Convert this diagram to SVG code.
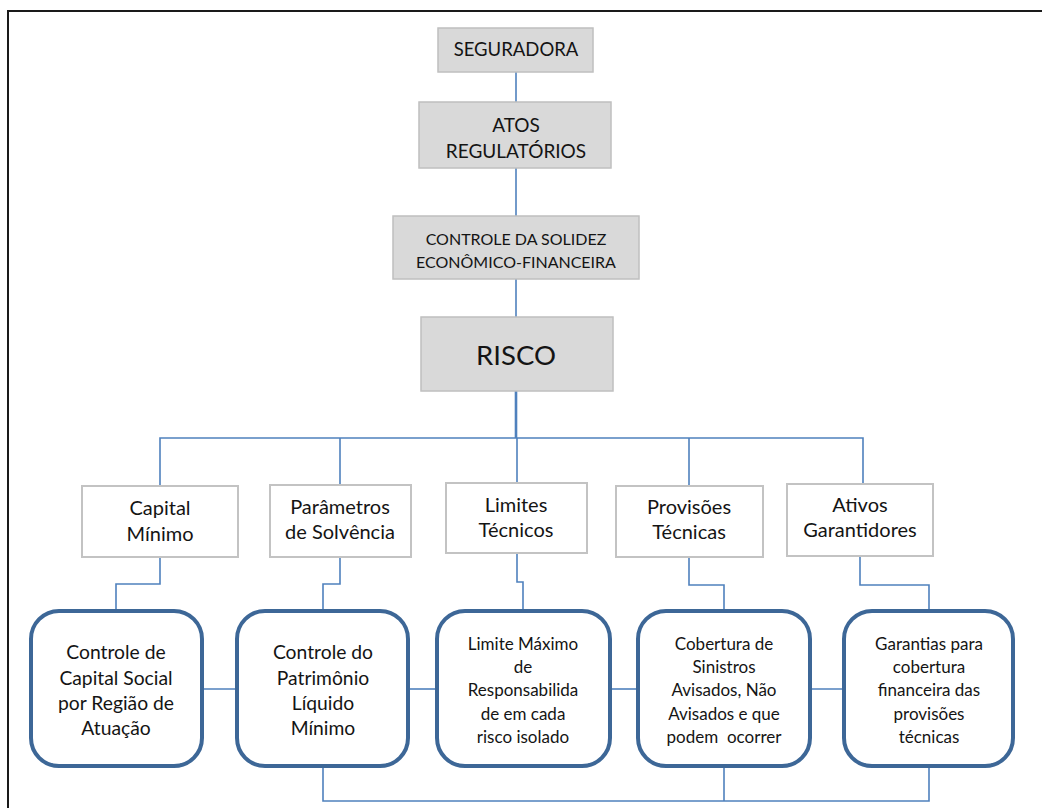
<svg xmlns="http://www.w3.org/2000/svg" width="1042" height="808" viewBox="0 0 1042 808">
<style>
.top{fill:#d9d9d9;stroke:#bfbfbf;stroke-width:1.5}
.mid{fill:#ffffff;stroke:#c3c3c3;stroke-width:2}
.bot{fill:#ffffff;stroke:#3d6797;stroke-width:4}
.t{font-family:Lato,"Open Sans","Liberation Sans",sans-serif;fill:#141414;text-anchor:middle;dominant-baseline:central}
.c{fill:none;stroke:#4f81bd;stroke-width:1.6}
</style>
<rect width="1042" height="808" fill="#ffffff"/>
<polyline points="8,808 8,11 1042,11" fill="none" stroke="#1a1a1a" stroke-width="2"/>
<g id="connectors">
<line class="c" x1="516" y1="72" x2="516" y2="102"/>
<line class="c" x1="516" y1="168" x2="516" y2="216"/>
<line class="c" x1="516" y1="279" x2="516" y2="317"/>
<line class="c" x1="516" y1="391" x2="516" y2="438" style="stroke-width:2.6"/>
<polyline class="c" points="160,486 160,438 863,438 863,484"/>
<line class="c" x1="340" y1="438" x2="340" y2="485"/>
<line class="c" x1="517" y1="438" x2="517" y2="483"/>
<line class="c" x1="689" y1="438" x2="689" y2="486"/>
<polyline class="c" points="160,557 160,584 116,584 116,611"/>
<polyline class="c" points="340,557 340,584 323,584 323,611"/>
<polyline class="c" points="517,553 517,582 523,582 523,611"/>
<polyline class="c" points="689,557 689,585 724,585 724,611"/>
<polyline class="c" points="860,556 860,585 929,585 929,611"/>
<line class="c" x1="202" y1="689" x2="237" y2="689"/>
<line class="c" x1="408" y1="689" x2="437" y2="689"/>
<line class="c" x1="610" y1="689" x2="638" y2="689"/>
<line class="c" x1="810" y1="689" x2="844" y2="689"/>
<polyline class="c" points="323,766 323,801 929,801 929,766"/>
<line class="c" x1="724" y1="766" x2="724" y2="801"/>
</g>
<g id="seguradora">
<rect class="top" x="438" y="28" width="155" height="44"/>
<text class="t" x="516" y="49" font-size="18.5">SEGURADORA</text>
</g>
<g id="atos">
<rect class="top" x="419" y="102" width="192" height="66"/>
<text class="t" x="516" y="124" font-size="19">ATOS</text>
<text class="t" x="516" y="150" font-size="19">REGULATÓRIOS</text>
</g>
<g id="controle">
<rect class="top" x="393" y="216" width="246" height="63"/>
<text class="t" x="516" y="238" font-size="16">CONTROLE DA SOLIDEZ</text>
<text class="t" x="516" y="261" font-size="16">ECONÔMICO-FINANCEIRA</text>
</g>
<g id="risco">
<rect class="top" x="421" y="317" width="192" height="74"/>
<text class="t" x="516" y="354" font-size="27.5">RISCO</text>
</g>
<g id="capital">
<rect class="mid" x="82" y="486" width="156" height="71"/>
<text class="t" x="160" y="507" font-size="20">Capital</text>
<text class="t" x="160" y="533" font-size="20">Mínimo</text>
</g>
<g id="parametros">
<rect class="mid" x="270" y="485" width="141" height="72"/>
<text class="t" x="340" y="506" font-size="20">Parâmetros</text>
<text class="t" x="340" y="531" font-size="20">de Solvência</text>
</g>
<g id="limites">
<rect class="mid" x="446" y="483" width="141" height="70"/>
<text class="t" x="516" y="504" font-size="20">Limites</text>
<text class="t" x="516" y="529" font-size="20">Técnicos</text>
</g>
<g id="provisoes">
<rect class="mid" x="616" y="486" width="147" height="71"/>
<text class="t" x="689" y="506" font-size="20">Provisões</text>
<text class="t" x="689" y="531" font-size="20">Técnicas</text>
</g>
<g id="ativos">
<rect class="mid" x="787" y="484" width="146" height="72"/>
<text class="t" x="860" y="504" font-size="20">Ativos</text>
<text class="t" x="860" y="529" font-size="20">Garantidores</text>
</g>
<g id="capital-social">
<rect class="bot" x="31" y="611" width="171" height="155" rx="28"/>
<text class="t" x="116" y="651" font-size="19.3">Controle de</text>
<text class="t" x="116" y="677" font-size="19.3">Capital Social</text>
<text class="t" x="116" y="702" font-size="19.3">por Região de</text>
<text class="t" x="116" y="727" font-size="19.3">Atuação</text>
</g>
<g id="patrimonio">
<rect class="bot" x="237" y="611" width="171" height="155" rx="28"/>
<text class="t" x="323" y="651" font-size="19.3">Controle do</text>
<text class="t" x="323" y="677" font-size="19.3">Patrimônio</text>
<text class="t" x="323" y="702" font-size="19.3">Líquido</text>
<text class="t" x="323" y="727" font-size="19.3">Mínimo</text>
</g>
<g id="limite-maximo">
<rect class="bot" x="437" y="611" width="173" height="155" rx="28"/>
<text class="t" x="523" y="643" font-size="17">Limite Máximo</text>
<text class="t" x="523" y="666" font-size="17">de</text>
<text class="t" x="523" y="689" font-size="17">Responsabilida</text>
<text class="t" x="523" y="713" font-size="17">de em cada</text>
<text class="t" x="523" y="736" font-size="17">risco isolado</text>
</g>
<g id="cobertura">
<rect class="bot" x="638" y="611" width="172" height="155" rx="28"/>
<text class="t" x="724" y="643" font-size="17">Cobertura de</text>
<text class="t" x="724" y="666" font-size="17">Sinistros</text>
<text class="t" x="724" y="689" font-size="17">Avisados, Não</text>
<text class="t" x="724" y="713" font-size="17">Avisados e que</text>
<text class="t" x="724" y="736" font-size="17" xml:space="preserve">podem  ocorrer</text>
</g>
<g id="garantias">
<rect class="bot" x="844" y="611" width="169" height="155" rx="28"/>
<text class="t" x="929" y="643" font-size="17">Garantias para</text>
<text class="t" x="929" y="666" font-size="17">cobertura</text>
<text class="t" x="929" y="689" font-size="17">financeira das</text>
<text class="t" x="929" y="713" font-size="17">provisões</text>
<text class="t" x="929" y="736" font-size="17">técnicas</text>
</g>
</svg>
